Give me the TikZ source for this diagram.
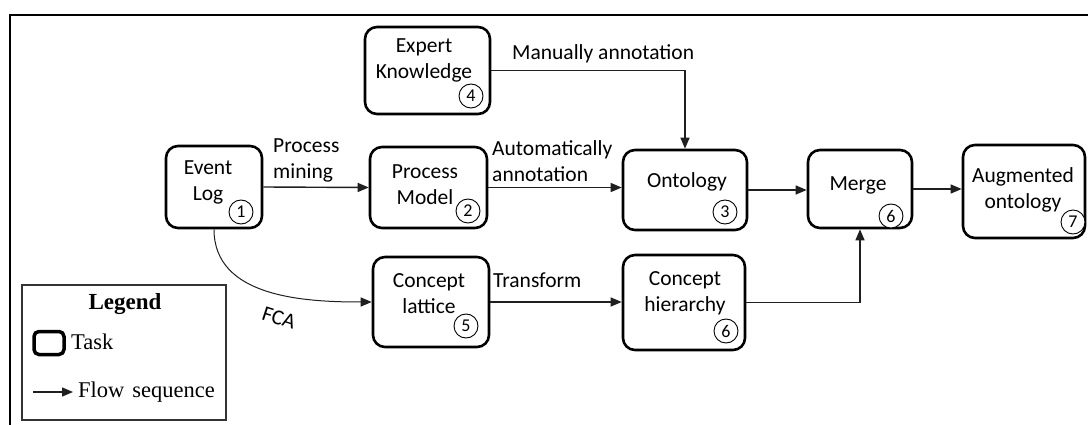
\documentclass[tikz,border=0pt]{standalone}
\usepackage{fontspec}
\setmainfont{Carlito}
\newfontfamily\legendfont{Liberation Serif}
\usetikzlibrary{arrows.meta,calc}

\begin{document}
\begin{tikzpicture}[x=1pt,y=-1pt,
  task/.style={draw, line width=2.6pt, rounded corners=12pt, inner sep=0pt},
  ttext/.style={align=center, font=\fontsize{21.5}{26}\selectfont, inner sep=0pt},
  num/.style={draw, circle, line width=0.9pt, minimum size=24pt, inner sep=0pt,
    fill=white, font=\fontsize{18}{18}\selectfont},
  flow/.style={line width=1.4pt, draw=black!88, -{Triangle[length=11pt,width=9pt]}},
  lbl/.style={font=\fontsize{21.5}{26}\selectfont, inner sep=0pt, align=left},
  legtext/.style={font=\legendfont\fontsize{22.5}{22.5}\selectfont, inner sep=0pt},
]
\useasboundingbox (0,0) rectangle (1088,425);

% outer frame (top and left edges)
\draw[line width=2.6pt] (10,425) -- (10,15) -- (1088,15);

% task boxes
\node[task, minimum width=96pt,  minimum height=82pt] (ev) at (214,187)   {};
\node[task, minimum width=117pt, minimum height=81pt] (pm) at (428.5,187.5) {};
\node[task, minimum width=125pt, minimum height=87pt] (ex) at (427.5,70.5) {};
\node[task, minimum width=124pt, minimum height=80pt] (on) at (685,190)   {};
\node[task, minimum width=104pt, minimum height=78pt] (mg) at (860,189)   {};
\node[task, minimum width=122pt, minimum height=93pt] (au) at (1024,191.5) {};
\node[task, minimum width=116pt, minimum height=90pt] (cl) at (431,302)   {};
\node[task, minimum width=122pt, minimum height=95pt] (ch) at (684,302.5) {};

% task names
\node[ttext] (ev-t) at (208,182) {Event\\Log};
\node[ttext] (pm-t) at (425,185) {Process\\Model};
\node[ttext] (ex-t) at (424,60)  {Expert\\Knowledge};
\node[ttext] (on-t) at (687,182) {Ontology};
\node[ttext] (mg-t) at (858,185) {Merge};
\node[ttext] (au-t) at (1023,190) {Augmented\\ontology};
\node[ttext] (cl-t) at (429,294) {Concept\\lattice};
\node[ttext] (ch-t) at (685,293) {Concept\\hierarchy};

% step numbers
\node[num] (n1)  at (241,212)  {1};
\node[num] (n2)  at (468,211)  {2};
\node[num] (n4)  at (471,96)   {4};
\node[num] (n3)  at (725,212)  {3};
\node[num] (n6a) at (891,216)  {6};
\node[num] (n7)  at (1073,222) {7};
\node[num] (n5)  at (466,326)  {5};
\node[num] (n6b) at (726,331)  {6};

% flows
\draw[flow] (ev.east) -- (pm.west);
\draw[flow] (pm.east) -- (pm.east -| on.west);
\draw[flow] (on.east) -- (on.east -| mg.west);
\draw[flow] (mg.east) -- (mg.east -| au.west);
\draw[flow] (ex.east) -| (on.north);
\draw[flow] (cl.east) -- (cl.east -| ch.west);
\draw[flow] (ch.east) -| (mg.south);
\draw[flow, line width=1pt] (ev.south) to[out=-90, in=180] (cl.west);

% flow labels
\node[lbl, anchor=west] (l-pm)   at (273,160) {Process\\mining};
\node[lbl, anchor=west] (l-auto) at (492,161) {Automatically\\annotation};
\node[lbl, anchor=west] (l-man)  at (512,54)  {Manually annotation};
\node[lbl, anchor=west] (l-tr)   at (493,280) {Transform};
\node[lbl, rotate=-18]  (l-fca)  at (279,318) {FCA};

% legend
\node[draw=black!80, line width=1.2pt, minimum width=204pt, minimum height=135pt,
  inner sep=0pt] (legend) at (124,352.5) {};
\node[legtext, font=\legendfont\bfseries\fontsize{23}{23}\selectfont] (lg-title) at (125,304) {Legend};
\node[draw, line width=3.5pt, rounded corners=5pt, minimum width=30pt,
  minimum height=23pt, inner sep=0pt] (lg-task) at (49,343) {};
\node[legtext, anchor=west] (lg-tasktext) at (71,342) {Task};
\coordinate (lg-a) at (33,392);
\coordinate (lg-b) at (73,392);
\draw[flow] (lg-a) -- (lg-b);
\node[legtext, anchor=west] (lg-flowtext) at (78,392) {Flow\hspace{0.1em} sequence};
\end{tikzpicture}
\end{document}
